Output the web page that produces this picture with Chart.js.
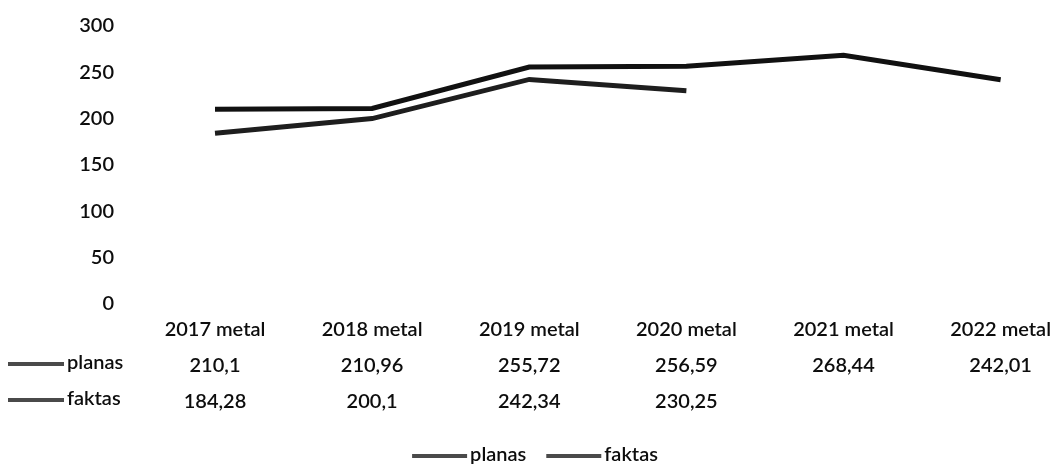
<!DOCTYPE html>
<html>
<head>
<meta charset="utf-8">
<script src="https://cdn.jsdelivr.net/npm/chart.js@4"></script>
<style>
  html, body { margin: 0; padding: 0; background: #fff; }
  #wrap { width: 1051px; height: 465px; }
</style>
</head>
<body>
<div id="wrap"><canvas id="lineChart" width="1051" height="465"></canvas></div>
<script>
// data
const categories = ["2017 metal", "2018 metal", "2019 metal", "2020 metal", "2021 metal", "2022 metal"];
const planas = [210.1, 210.96, 255.72, 256.59, 268.44, 242.01];
const faktas = [184.28, 200.1, 242.34, 230.25, null, null];
const yTicks = [0, 50, 100, 150, 200, 250, 300];

const FONT = "Lato, 'Open Sans', sans-serif";
const INK = "#0d0d0d";
const FS = 20;
const LINE_H = 36;
const KEY = "#4a4a4a";

function fmt(v) {
    return v == null ? "" : String(v).replace(".", ",");
}

// row headers of the data table (key + series name)
const rowHeaders = {
    id: "rowHeaders",
    afterDraw(chart) {
        const ctx = chart.ctx;
        const x = chart.scales.x;
        const first = x.top + LINE_H / 2 + FS / 2;
        ctx.save();
        ctx.font = "600 " + FS + "px " + FONT;
        ctx.fillStyle = INK;
        ctx.textBaseline = "middle";
        chart.data.datasets.forEach((ds, i) => {
            const y = first + LINE_H * (i + 1) - 5;
            ctx.strokeStyle = KEY;
            ctx.lineWidth = 4;
            ctx.beginPath();
            ctx.moveTo(8, y + 1);
            ctx.lineTo(64, y + 1);
            ctx.stroke();
            ctx.fillText(ds.label, 67, y);
        });
        ctx.restore();
    }
};

// legend under the table
const bottomLegend = {
    id: "bottomLegend",
    afterDraw(chart) {
        const ctx = chart.ctx;
        const sw = 55, gap = 3, between = 20;
        ctx.save();
        ctx.font = "600 " + FS + "px " + FONT;
        ctx.fillStyle = INK;
        ctx.textBaseline = "middle";
        const items = chart.data.datasets.map(ds => ({ label: ds.label, w: ctx.measureText(ds.label).width }));
        let total = items.reduce((s, it) => s + sw + gap + it.w, 0) + between * (items.length - 1);
        let cx = 535 - total / 2;
        const y = 455;
        items.forEach(it => {
            ctx.strokeStyle = KEY;
            ctx.lineWidth = 4;
            ctx.beginPath();
            ctx.moveTo(cx, y + 1);
            ctx.lineTo(cx + sw, y + 1);
            ctx.stroke();
            ctx.fillText(it.label, cx + sw + gap, y);
            cx += sw + gap + it.w + between;
        });
        ctx.restore();
    }
};

new Chart(document.getElementById("lineChart"), {
    type: "line",
    data: {
        labels: categories,
        datasets: [{
            label: "planas",
            data: planas,
            borderColor: "#111111",
            backgroundColor: "#111111",
            borderWidth: 5,
            pointRadius: 0,
            fill: false,
            tension: 0
        }, {
            label: "faktas",
            data: faktas,
            borderColor: "#1e1e1e",
            backgroundColor: "#1e1e1e",
            borderWidth: 5,
            pointRadius: 0,
            fill: false,
            tension: 0
        }]
    },
    options: {
        responsive: false,
        animation: false,
        layout: { padding: { top: 0, right: 48, left: 0, bottom: 53 } },
        plugins: {
            legend: { display: false },
            tooltip: { enabled: false }
        },
        scales: {
            x: {
                offset: false,
                afterFit: function (scale) { scale.height = 108; },
                grid: { display: false },
                border: { display: false },
                ticks: {
                    color: INK,
                    maxRotation: 0,
                    autoSkip: false,
                    padding: 0,
                    font: { family: FONT, size: FS, weight: "600", lineHeight: LINE_H / FS },
                    callback: function (v, i) {
                        return [categories[i], fmt(planas[i]), fmt(faktas[i])];
                    }
                }
            },
            y: {
                min: 0,
                max: 300,
                afterFit: function (scale) { scale.width = 215; },
                afterBuildTicks: function (scale) {
                    scale.ticks = yTicks.map(v => ({ value: v }));
                },
                grid: {
                    display: true,
                    drawOnChartArea: false,
                    drawTicks: true,
                    tickLength: 87,
                    tickColor: "rgba(0,0,0,0)"
                },
                border: { display: false },
                ticks: {
                    color: INK,
                    padding: 14,
                    font: { family: FONT, size: FS, weight: "600" }
                }
            }
        }
    },
    plugins: [rowHeaders, bottomLegend]
});
</script>
</body>
</html>
